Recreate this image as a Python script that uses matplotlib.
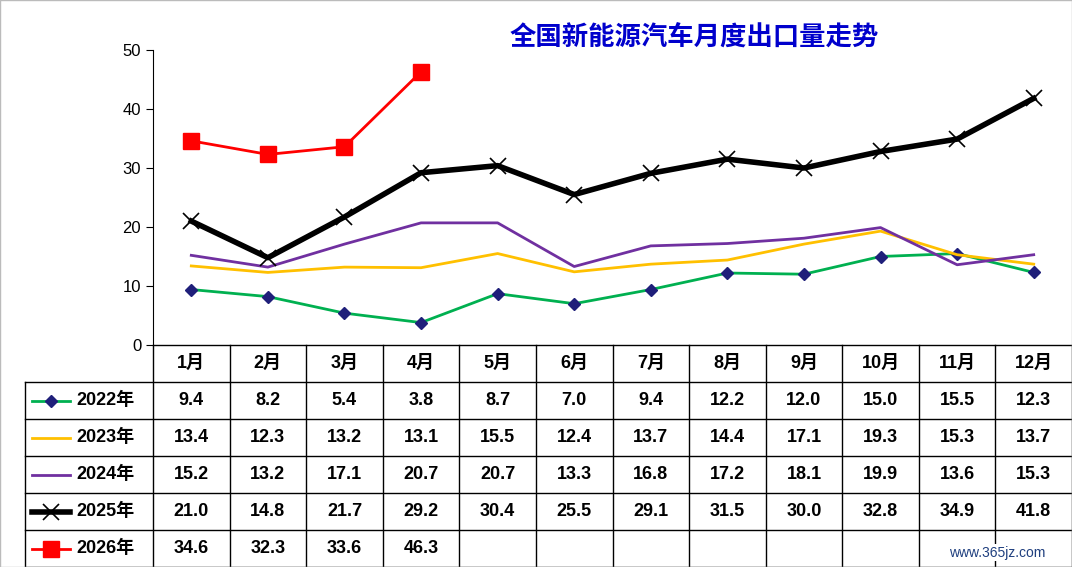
import matplotlib.pyplot as plt
import numpy as np

plt.rcParams['font.family'] = ['Liberation Sans', 'Noto Sans CJK SC', 'DejaVu Sans']

months = ['1月', '2月', '3月', '4月', '5月', '6月', '7月', '8月', '9月', '10月', '11月', '12月']
series_names = ['2022年', '2023年', '2024年', '2025年', '2026年']
v2022 = [9.4, 8.2, 5.4, 3.8, 8.7, 7.0, 9.4, 12.2, 12.0, 15.0, 15.5, 12.3]
v2023 = [13.4, 12.3, 13.2, 13.1, 15.5, 12.4, 13.7, 14.4, 17.1, 19.3, 15.3, 13.7]
v2024 = [15.2, 13.2, 17.1, 20.7, 20.7, 13.3, 16.8, 17.2, 18.1, 19.9, 13.6, 15.3]
v2025 = [21.0, 14.8, 21.7, 29.2, 30.4, 25.5, 29.1, 31.5, 30.0, 32.8, 34.9, 41.8]
v2026 = [34.6, 32.3, 33.6, 46.3]
values = [v2022, v2023, v2024, v2025, v2026]
styles = [
    dict(color='#00B050', lw=2, marker='D', ms=6, mfc='#1F1F7A', mec='#1F1F7A'),
    dict(color='#FFC000', lw=2, marker=None),
    dict(color='#7030A0', lw=2, marker=None),
    dict(color='black', lw=4, marker='x', ms=11, mew=1.2, mec='black'),
    dict(color='#FF0000', lw=2, marker='s', ms=11, mfc='#FF0000', mec='#FF0000'),
]

W, H = 1072, 567
fig = plt.figure(figsize=(W / 100, H / 100), dpi=100)
x0, x1 = 153, 1072
ytop, y0 = 50, 345

ax = fig.add_axes([x0 / W, 1 - y0 / H, (x1 - x0) / W, (y0 - ytop) / H])
for vals, st in zip(values, styles):
    xs = np.arange(len(vals)) + 0.5
    ax.plot(xs, vals, zorder=3, **st)
ax.set_xlim(0, 12)
ax.set_ylim(0, 50)
ax.set_yticks(range(0, 51, 10))
ax.set_xticks([])
for s in ['top', 'right', 'bottom']:
    ax.spines[s].set_visible(False)
ax.tick_params(axis='y', labelsize=12, length=5, direction='out')

# table
tb = fig.add_axes([0, 0, 1, 1])
tb.set_xlim(0, W)
tb.set_ylim(H, 0)
tb.axis('off')
cw = (x1 - x0) / 12
rh = (H - y0) / 6
lx = 25
rows_y = [y0 + rh * i for i in range(7)]
tb.plot([x0, W - 1], [y0, y0], color='black', lw=1)
for r in range(1, 7):
    tb.plot([lx, W - 1], [rows_y[r]] * 2, color='black', lw=1)
tb.plot([lx, lx], [rows_y[1], H], color='black', lw=1)
for c in range(13):
    xc = x0 + cw * c
    tb.plot([xc, xc], [y0, H], color='black', lw=1)
for i, m in enumerate(months):
    tb.text(x0 + cw * (i + 0.5), y0 + rh / 2, m, ha='center', va='center',
            fontsize=13, fontweight='bold')
for r, (name, vals, st) in enumerate(zip(series_names, values, styles)):
    yc = rows_y[r + 1] + rh / 2
    line_st = {k: v for k, v in st.items()}
    tb.plot([32, 51, 70], [yc, yc, yc], markevery=[1], **line_st)
    tb.text(76, yc, name, ha='left', va='center', fontsize=13, fontweight='bold')
    for i, v in enumerate(vals):
        tb.text(x0 + cw * (i + 0.5), yc, f'{v:.1f}', ha='center', va='center',
                fontsize=13, fontweight='bold')

fig.text(0.648, 0.933, '全国新能源汽车月度出口量走势', ha='center', va='center',
         fontsize=19, fontweight='bold', color='#0000CC',
         family=['Noto Sans CJK SC', 'DejaVu Sans'])
fig.text(0.93, 0.025, 'www.365jz.com', ha='center', va='center', fontsize=10,
         color='#1F3F7F', bbox=dict(facecolor='white', edgecolor='none', pad=1))
fig.patches.append(plt.Rectangle((0, 0), 1, 1, transform=fig.transFigure,
                                 fill=False, edgecolor='#BBBBBB', lw=1))
fig.savefig('out.png', dpi=100)
